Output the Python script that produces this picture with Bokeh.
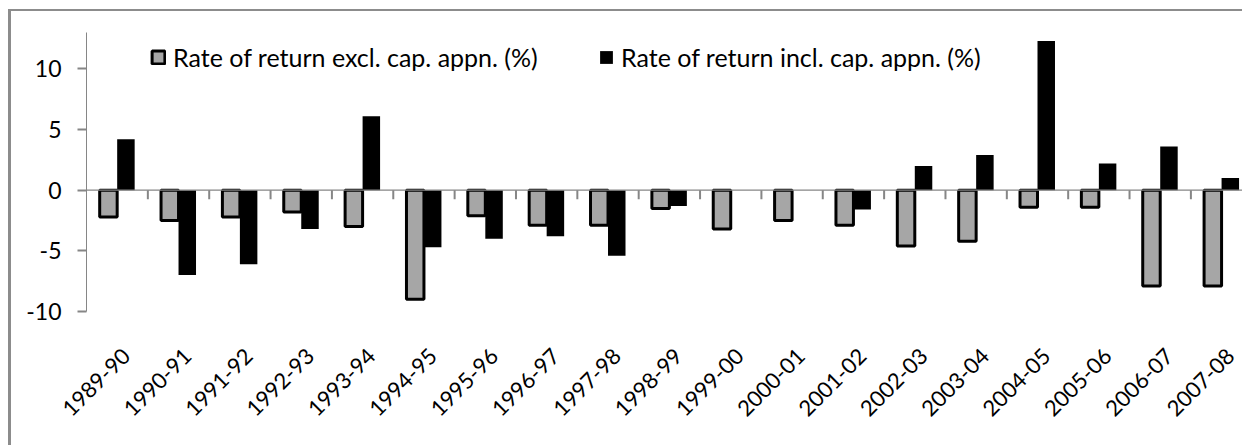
from math import pi
from bokeh.plotting import figure
from bokeh.models import (Range1d, FixedTicker, LinearAxis, Span, Legend, LegendItem,
                          ColumnDataSource)
from bokeh.embed import file_html
from bokeh.resources import INLINE

years = ["1989-90", "1990-91", "1991-92", "1992-93", "1993-94", "1994-95", "1995-96",
         "1996-97", "1997-98", "1998-99", "1999-00", "2000-01", "2001-02", "2002-03",
         "2003-04", "2004-05", "2005-06", "2006-07", "2007-08"]
excl_cap = [-2.2, -2.5, -2.2, -1.8, -3.0, -9.0, -2.1, -2.9, -2.9, -1.5, -3.2, -2.5,
            -2.9, -4.6, -4.2, -1.4, -1.4, -7.9, -7.9]
incl_cap = [4.2, -7.0, -6.1, -3.2, 6.1, -4.7, -4.0, -3.8, -5.4, -1.3, 0.0, 0.0,
            -1.6, 2.0, 2.9, 12.3, 2.2, 3.6, 1.0]
y_ticks = [-10, -5, 0, 5, 10]
name_excl = "Rate of return excl. cap. appn. (%)"
name_incl = "Rate of return incl. cap. appn. (%)"

FONT = "Lato"
AXIS_GRAY = "#868686"
BAR_W = 0.285
LABEL_SHIFT = 0.15

n = len(years)
centers = [i + 0.5 for i in range(n)]
bounds = [i + 1 for i in range(n)]

p = figure(width=1234, height=436, output_backend="svg", toolbar_location=None,
           x_range=Range1d(0, 18.89), y_range=Range1d(-10, 13),
           min_border_left=75, min_border_right=0, min_border_top=21,
           min_border_bottom=136, x_axis_type=None, y_axis_type=None)
p.styles = {"margin-left": "8px", "margin-top": "9px",
            "border-left": "3px solid #8c8c8c", "border-top": "2px solid #8c8c8c"}
p.outline_line_color = None
p.xgrid.visible = False
p.ygrid.visible = False
p.background_fill_color = "white"
p.border_fill_color = "white"

# y axis
yaxis = LinearAxis(ticker=FixedTicker(ticks=y_ticks))
yaxis.major_label_overrides = {t: str(t) for t in y_ticks}
yaxis.axis_line_color = AXIS_GRAY
yaxis.major_tick_line_color = AXIS_GRAY
yaxis.major_tick_line_width = 2
yaxis.major_tick_in = 0
yaxis.major_tick_out = 9
yaxis.minor_tick_line_color = None
yaxis.major_label_text_font = FONT
yaxis.major_label_text_font_size = "23px"
yaxis.major_label_text_color = "black"
yaxis.major_label_standoff = 16
p.add_layout(yaxis, "left")

# x axis (labels only)
label_pos = [c + LABEL_SHIFT for c in centers]
xaxis = LinearAxis(ticker=FixedTicker(ticks=label_pos))
xaxis.major_label_overrides = {x: y for x, y in zip(label_pos, years)}
xaxis.axis_line_color = None
xaxis.major_tick_line_color = None
xaxis.major_tick_in = 0
xaxis.major_tick_out = 36
xaxis.minor_tick_line_color = None
xaxis.major_label_orientation = pi / 4
xaxis.major_label_text_font = FONT
xaxis.major_label_text_font_size = "22px"
xaxis.major_label_text_color = "black"
xaxis.major_label_standoff = 5
p.add_layout(xaxis, "below")

# zero line and category tick marks
p.add_layout(Span(location=0, dimension="width", line_color=AXIS_GRAY, line_width=1.3))
p.segment(x0=bounds, y0=[0] * n, x1=bounds, y1=[-0.75] * n,
          line_color=AXIS_GRAY, line_width=2)

src = ColumnDataSource(dict(
    xe=[c - BAR_W / 2 for c in centers],
    xi=[c + BAR_W / 2 for c in centers],
    excl=excl_cap, incl=incl_cap))
r1 = p.vbar(x="xe", top="excl", bottom=0, width=BAR_W, source=src,
            fill_color="#a6a6a6", line_color="black", line_width=3)
r2 = p.vbar(x="xi", top="incl", bottom=0, width=BAR_W, source=src,
            fill_color="black", line_color=None)

def make_legend(label, r, loc):
    lg = Legend(items=[LegendItem(label=label, renderers=[r])], location=loc,
                orientation="horizontal", border_line_color=None,
                background_fill_alpha=0, padding=0, margin=0,
                glyph_width=16, glyph_height=16, label_standoff=7,
                label_text_font=FONT, label_text_font_size="25px",
                label_text_color="black", label_height=16)
    return lg

p.add_layout(make_legend(name_excl, r1, (64, 239)))
p.add_layout(make_legend(name_incl, r2, (512, 239)))

open("out.html", "w").write(file_html(p, INLINE))
